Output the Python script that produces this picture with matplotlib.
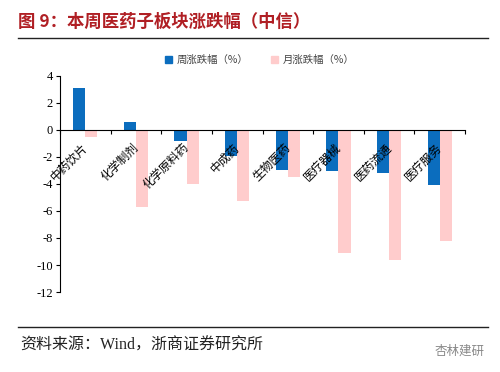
import numpy as np
import matplotlib.pyplot as plt
from matplotlib.lines import Line2D
from matplotlib.patches import Patch

plt.rcParams['font.family'] = ['Noto Sans CJK SC', 'DejaVu Sans']

categories = ['中药饮片', '化学制剂', '化学原料药', '中成药', '生物医药', '医疗器械', '医药流通', '医疗服务']
weekly = [3.1, 0.6, -0.85, -1.92, -2.96, -3.03, -3.16, -4.08]
monthly = [-0.55, -5.68, -4.02, -5.28, -3.5, -9.09, -9.63, -8.2]
yticks = [-12, -10, -8, -6, -4, -2, 0, 2, 4]

blue = '#0B6DBE'
pink = '#FFCCCC'

fig = plt.figure(figsize=(5, 3.72), dpi=100)
ax = fig.add_axes([0.12, 0.215, 0.81, 0.581])

x = np.arange(len(categories))
w = 0.24
ax.bar(x - w / 2, weekly, w, color=blue, label='周涨跌幅（%）')
ax.bar(x + w / 2, monthly, w, color=pink, label='月涨跌幅（%）')

ax.set_xlim(-0.5, len(categories) - 0.5)
ax.set_ylim(-12, 4)
ax.set_yticks(yticks)
ax.set_yticklabels([str(v) for v in yticks], family='Liberation Serif', fontsize=9)

ax.spines['top'].set_visible(False)
ax.spines['right'].set_visible(False)
ax.spines['bottom'].set_position(('data', 0))
ax.spines['left'].set_linewidth(0.8)
ax.spines['bottom'].set_linewidth(0.8)

# ticks between categories, labels at category centres
ax.set_xticks(np.arange(len(categories) + 1) - 0.5)
ax.set_xticklabels([])
ax.set_xticks(x - 0.08, minor=True)
ax.set_xticklabels(categories, minor=True, rotation=45, ha='right', va='top',
                   fontsize=8.5, rotation_mode='anchor')
ax.tick_params(axis='x', which='minor', length=0, pad=8)
ax.tick_params(axis='x', which='major', length=3, direction='out')
ax.tick_params(axis='y', length=3, direction='out', pad=2)

handles = [Patch(color=blue), Patch(color=pink)]
fig.legend(handles, ['周涨跌幅（%）', '月涨跌幅（%）'], loc='center', bbox_to_anchor=(0.52, 0.838),
           ncol=2, frameon=False, fontsize=7.5, handlelength=0.6, handleheight=0.6,
           columnspacing=2.2, handletextpad=0.5, labelcolor='#444444')

fig.text(0.036, 0.94, '图 9：本周医药子板块涨跌幅（中信）', fontsize=12.5, fontweight='bold',
         color='#B01F24', va='center')
fig.add_artist(Line2D([0.036, 0.976], [0.898, 0.898], color='#222222', lw=1))
fig.add_artist(Line2D([0.036, 0.976], [0.121, 0.121], color='#222222', lw=1))
fig.text(0.04, 0.072, '资料来源：Wind，浙商证券研究所', fontsize=11.5, va='center', color='#222222',
         family=['Liberation Serif', 'Noto Sans CJK SC'])
fig.text(0.97, 0.055, '杏林建研', fontsize=9, va='center', ha='right', color='#888888')

fig.savefig('out.png', dpi=100)
